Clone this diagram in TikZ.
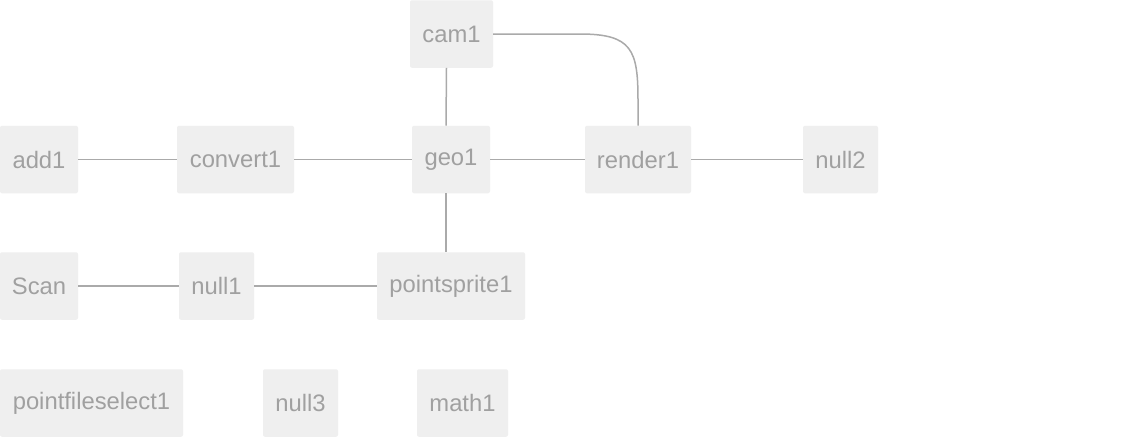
\documentclass[tikz,border=0pt]{standalone}
\usepackage{fontspec}
\setmainfont{Liberation Sans}
\definecolor{boxfill}{HTML}{EFEFEF}
\definecolor{boxtext}{HTML}{A0A0A0}
\definecolor{wire}{HTML}{AAAAAA}
\begin{document}
\begin{tikzpicture}[x=1pt,y=-1pt,
  nbox/.style={fill=boxfill, text=boxtext, rounded corners=2pt, inner sep=0pt,
    font=\fontsize{23.8}{28}\selectfont, minimum height=67.5pt},
  wirel/.style={draw=wire, line width=1.5pt}]
\useasboundingbox[fill=white] (0,0) rectangle (1144,437);
\node[nbox, minimum width=83] (cam1) at (451.5,34) {cam1};
\node[nbox, minimum width=78] (geo1) at (451,159.5) {geo1};
\node[nbox, minimum width=106] (render1) at (638,159.5) {render1};
\node[nbox, minimum width=75] (null2) at (840.5,159.5) {null2};
\node[nbox, minimum width=78] (add1) at (39,159.5) {add1};
\node[nbox, minimum width=117] (convert1) at (235.5,159.5) {convert1};
\node[nbox, minimum width=78] (Scan) at (39,286) {Scan};
\node[nbox, minimum width=75] (null1) at (216.5,286) {null1};
\node[nbox, minimum width=148] (pointsprite1) at (451,286) {pointsprite1};
\node[nbox, minimum width=183] (pointfileselect1) at (91.5,403) {pointfileselect1};
\node[nbox, minimum width=75] (null3) at (300.5,403) {null3};
\node[nbox, minimum width=91] (math1) at (462.5,403) {math1};

\draw[wirel] (add1) -- (convert1);
\draw[wirel] (convert1) -- (geo1);
\draw[wirel] (geo1) -- (render1);
\draw[wirel] (render1) -- (null2);
\draw[wirel] (Scan) -- (null1);
\draw[wirel] (null1) -- (pointsprite1);
\draw[wirel] ([xshift=-5pt]cam1.south) -- ([xshift=-5pt]geo1.north);
\draw[wirel] ([xshift=-5pt]geo1.south) -- ([xshift=-5pt]pointsprite1.north);
\draw[wirel] (cam1.east) -- (580,34) .. controls (632,34) and (638,50) .. (638,100) -- (render1.north);
\end{tikzpicture}
\end{document}
